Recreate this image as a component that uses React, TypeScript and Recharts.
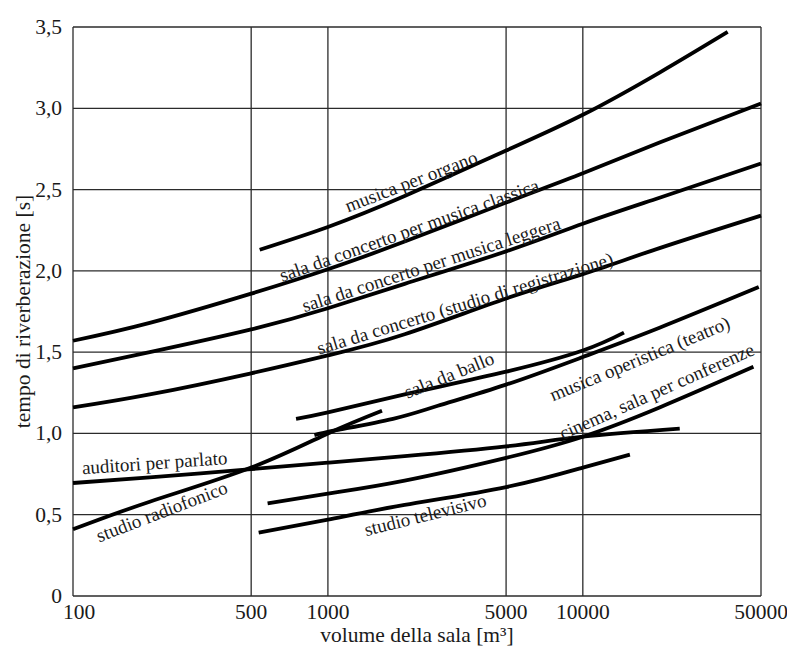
import { LineChart, Line, XAxis, YAxis, CartesianGrid, ReferenceDot } from 'recharts';

const FONT = '"Liberation Serif", "Times New Roman", serif';
const INK = '#1a1a1a';

// axis ticks
const xTicks = [100, 500, 1000, 5000, 10000, 50000];
const yTicks = [0, 0.5, 1, 1.5, 2, 2.5, 3, 3.5];

// curves (volume m3 -> reverberation time s)
const organoX = [540, 1000, 2000, 5000, 10000, 20000, 37000];
const organoY = [2.13, 2.27, 2.46, 2.74, 2.96, 3.22, 3.47];

const classicaX = [100, 200, 500, 1000, 2000, 5000, 10000, 20000, 50000];
const classicaY = [1.57, 1.68, 1.86, 2.01, 2.18, 2.42, 2.6, 2.79, 3.03];

const leggeraX = [100, 200, 500, 1000, 2000, 5000, 10000, 20000, 50000];
const leggeraY = [1.4, 1.5, 1.64, 1.77, 1.92, 2.12, 2.29, 2.45, 2.66];

const registrazioneX = [100, 200, 500, 1000, 2000, 5000, 10000, 20000, 50000];
const registrazioneY = [1.16, 1.24, 1.37, 1.48, 1.61, 1.83, 1.98, 2.14, 2.34];

const balloX = [750, 1000, 2000, 5000, 10000, 14500];
const balloY = [1.09, 1.13, 1.24, 1.38, 1.51, 1.62];

const operisticaX = [885, 1080, 1800, 2700, 5000, 10000, 20000, 49000];
const operisticaY = [0.99, 1.02, 1.09, 1.17, 1.3, 1.47, 1.65, 1.9];

const auditoriX = [100, 200, 500, 1000, 2000, 5000, 10000, 24000];
const auditoriY = [0.695, 0.73, 0.78, 0.82, 0.86, 0.92, 0.98, 1.03];

const radiofonicoX = [100, 200, 500, 1000, 1630];
const radiofonicoY = [0.41, 0.58, 0.79, 1.0, 1.14];

const cinemaX = [580, 1000, 2000, 5000, 10000, 20000, 46700];
const cinemaY = [0.57, 0.63, 0.71, 0.85, 0.98, 1.16, 1.41];

const televisivoX = [535, 1000, 2000, 5000, 10000, 15300];
const televisivoY = [0.39, 0.47, 0.56, 0.67, 0.79, 0.87];

const series = [
  { name: 'organo', xs: organoX, ys: organoY },
  { name: 'classica', xs: classicaX, ys: classicaY },
  { name: 'leggera', xs: leggeraX, ys: leggeraY },
  { name: 'registrazione', xs: registrazioneX, ys: registrazioneY },
  { name: 'ballo', xs: balloX, ys: balloY },
  { name: 'operistica', xs: operisticaX, ys: operisticaY },
  { name: 'auditori', xs: auditoriX, ys: auditoriY },
  { name: 'radiofonico', xs: radiofonicoX, ys: radiofonicoY },
  { name: 'cinema', xs: cinemaX, ys: cinemaY },
  { name: 'televisivo', xs: televisivoX, ys: televisivoY },
];

// curve names, written along the curves
const curveLabels = [
  { text: 'musica per organo', x: 2120, y: 2.55, angle: -21 },
  { text: 'sala da concerto per musica classica', x: 2085, y: 2.25, angle: -19.5 },
  { text: 'sala da concerto per musica leggera', x: 2540, y: 2.04, angle: -18 },
  { text: 'sala da concerto (studio di registrazione)', x: 3450, y: 1.8, angle: -17 },
  { text: 'sala da ballo', x: 2990, y: 1.36, angle: -22 },
  { text: 'musica operistica (teatro)', x: 16700, y: 1.46, angle: -22.5 },
  { text: 'cinema, sala per conferenze', x: 19500, y: 1.26, angle: -24 },
  { text: 'auditori per parlato', x: 209, y: 0.82, angle: -4 },
  { text: 'studio radiofonico', x: 223, y: 0.52, angle: -21 },
  { text: 'studio televisivo', x: 2410, y: 0.5, angle: -14 },
];

const formatY = (v: number) => (v === 0 ? '0' : v.toFixed(1).replace('.', ','));

function XTick(props: any) {
  const { x, y, payload } = props;
  const shift = payload.value === 100 ? 6 : 0;
  return (
    <text x={x + shift} y={y} dy="0.71em" textAnchor="middle" fontSize={21.5} fontFamily={FONT} fill={INK}>
      {payload.value}
    </text>
  );
}

function YTick(props: any) {
  const { x, y, payload } = props;
  return (
    <text x={x} y={y} textAnchor="end" dominantBaseline="central" fontSize={21.5} fontFamily={FONT} fill={INK}>
      {formatY(payload.value)}
    </text>
  );
}

export default function App() {
  return (
    <div style={{ width: 787, height: 648, overflow: 'hidden', background: '#fff' }}>
      <style>{'body{margin:0}'}</style>
      <LineChart
        width={787}
        height={648}
        margin={{ top: 27, right: 26, bottom: 0, left: 0 }}
      >
        <CartesianGrid stroke="#2b2b2b" strokeWidth={1.3} />
        <XAxis
          dataKey="x"
          type="number"
          scale="log"
          domain={[100, 50000]}
          ticks={xTicks}
          height={52}
          axisLine={false}
          tickLine={false}
          tickSize={4}
          tickMargin={4}
          tick={<XTick />}
          label={{
            value: 'volume della sala [m³]',
            position: 'insideBottom',
            offset: 6,
            style: { fontSize: 21.5, fill: INK, fontFamily: FONT },
          }}
        />
        <YAxis
          type="number"
          domain={[0, 3.5]}
          ticks={yTicks}
          width={73}
          axisLine={false}
          tickLine={false}
          tickSize={5}
          tickMargin={6}
          tick={<YTick />}
          label={{
            value: 'tempo di riverberazione [s]',
            angle: -90,
            position: 'insideLeft',
            offset: 22,
            style: { fontSize: 21.5, fill: INK, fontFamily: FONT, textAnchor: 'middle' },
          }}
        />
        {series.map((s) => (
          <Line
            key={s.name}
            data={s.xs.map((x, i) => ({ x, y: s.ys[i] }))}
            dataKey="y"
            type="natural"
            stroke="#000"
            strokeWidth={3.8}
            dot={false}
            activeDot={false}
            isAnimationActive={false}
          />
        ))}
        {curveLabels.map((l) => (
          <ReferenceDot
            key={l.text}
            x={l.x}
            y={l.y}
            r={0}
            ifOverflow="visible"
            shape={(p: any) => (
              <text
                x={p.cx}
                y={p.cy}
                transform={`rotate(${l.angle} ${p.cx} ${p.cy})`}
                textAnchor="middle"
                dominantBaseline="central"
                fontSize={19}
                fontFamily={FONT}
                fill={INK}
              >
                {l.text}
              </text>
            )}
          />
        ))}
      </LineChart>
    </div>
  );
}
